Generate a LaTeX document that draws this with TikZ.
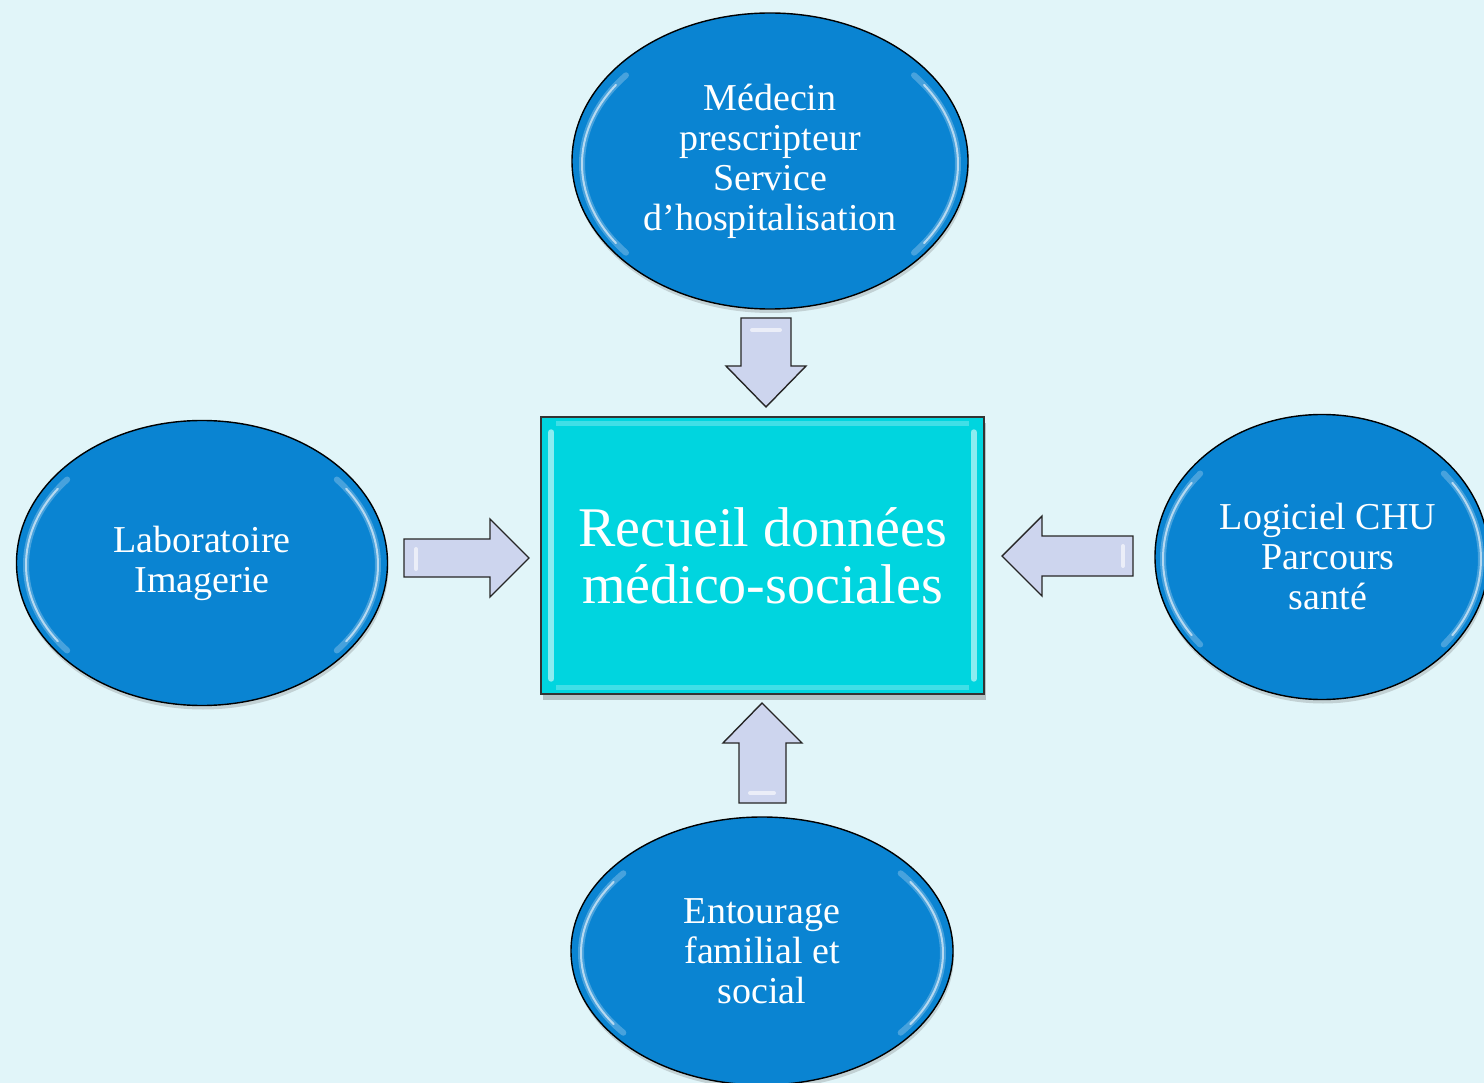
\documentclass[tikz,border=0pt]{standalone}
\usepackage{fontspec}
\setmainfont{Liberation Serif}
\usetikzlibrary{shapes.geometric,shadows}
\definecolor{bgc}{HTML}{E1F5F9}
\definecolor{ellc}{HTML}{0A84D2}
\definecolor{rectc}{HTML}{00D5DF}
\definecolor{arrc}{HTML}{CDD5EE}
\tikzset{
  ell/.style={ellipse, draw=black, line width=1.4pt, fill=ellc, text=white, align=center,
    font=\fontsize{38}{40}\selectfont, inner sep=0pt},
  ellshadow/.style={drop shadow={shadow xshift=1pt, shadow yshift=-4pt, opacity=.25, fill=black!60}},
  hl/.style={white, opacity=.25, line width=6pt, line cap=round},
  hlb/.style={white, opacity=.6, line width=2pt, line cap=round},
  centerbox/.style={rectangle, draw=black!80, line width=1.4pt, fill=rectc, text=white, align=center,
    font=\fontsize{56}{57}\selectfont, inner sep=0pt,
    drop shadow={shadow xshift=2pt, shadow yshift=-6pt, opacity=.3, fill=black!70}},
  blockarrow/.style={draw=black!85, line width=1.4pt, fill=arrc, line join=miter},
  arrhl/.style={white, opacity=.6, line width=4pt, line cap=round}
}
\begin{document}
\begin{tikzpicture}[x=1pt,y=-1pt]
\fill[bgc] (0,0) rectangle (1484,1083);
\useasboundingbox (0,0) rectangle (1484,1083);
\clip (0,0) rectangle (1484,1083);

% nodes
\node[ell, ellshadow, minimum width=396pt, minimum height=296pt] (top) at (770,161)
  {Médecin\\prescripteur\\Service\\d’hospitalisation};
\node[ell, ellshadow, minimum width=371pt, minimum height=285pt] (left) at (202,563)
  {Laboratoire\\Imagerie};
\node[ell, ellshadow, minimum width=334pt, minimum height=285pt] (right) at (1322,557)
  {\hspace*{12pt}Logiciel CHU\\\hspace*{12pt}Parcours\\\hspace*{12pt}santé};
\node[ell, ellshadow, minimum width=382pt, minimum height=268pt] (bottom) at (762,951)
  {Entourage\\familial et\\social};
\node[centerbox, minimum width=443pt, minimum height=277pt] (center) at (762.5,555.5)
  {Recueil données\\médico-sociales};

% glossy highlights on ellipses
\foreach \n/\rx/\ry/\dy in {top/188/138/-3, left/176/133/-2, right/159/133/-2, bottom/181/124/-2}{
  \draw[hl] ([yshift=\dy pt]\n.center) ++(140:\rx pt and \ry pt) arc[start angle=140, end angle=220, x radius=\rx pt, y radius=\ry pt];
  \draw[hlb] ([yshift=\dy pt]\n.center) ++(145:\rx pt and \ry pt) arc[start angle=145, end angle=215, x radius=\rx pt, y radius=\ry pt];
  \draw[hl] ([yshift=\dy pt]\n.center) ++(-40:\rx pt and \ry pt) arc[start angle=-40, end angle=40, x radius=\rx pt, y radius=\ry pt];
  \draw[hlb] ([yshift=\dy pt]\n.center) ++(-35:\rx pt and \ry pt) arc[start angle=-35, end angle=35, x radius=\rx pt, y radius=\ry pt];
}
% highlights on center box
\draw[white, opacity=.55, line width=6pt, line cap=round] ([xshift=11pt,yshift=-16pt]center.north west) -- ([xshift=11pt,yshift=16pt]center.south west);
\draw[white, opacity=.55, line width=6pt, line cap=round] ([xshift=-11pt,yshift=-16pt]center.north east) -- ([xshift=-11pt,yshift=16pt]center.south east);
\draw[white, opacity=.25, line width=5pt] ([xshift=16pt,yshift=-7pt]center.north west) -- ([xshift=-16pt,yshift=-7pt]center.north east);
\draw[white, opacity=.25, line width=5pt] ([xshift=16pt,yshift=7pt]center.south west) -- ([xshift=-16pt,yshift=7pt]center.south east);

% block arrows (connectors)
\coordinate (a1) at (766,318);   % top of down arrow
\coordinate (a2) at (404,559);   % tail of right arrow
\coordinate (a3) at (1133,556);  % tail of left arrow
\coordinate (a4) at (762,803);   % tail of up arrow

\draw[blockarrow] (a1) ++(-25,0) -- ++(50,0) -- ++(0,48) -- ++(15,0) -- ++(-40,41) -- ++(-40,-41) -- ++(15,0) -- cycle;
\draw[arrhl] (a1) ++(-14,12) -- ++(28,0);

\draw[blockarrow] (a2) ++(0,-20) -- ++(86,0) -- ++(0,-20) -- ++(39,39) -- ++(-39,39) -- ++(0,-20) -- ++(-86,0) -- cycle;
\draw[arrhl] (a2) ++(12,-10) -- ++(0,20);

\draw[blockarrow] (a3) ++(0,-20) -- ++(-91,0) -- ++(0,-20) -- ++(-40,40) -- ++(40,40) -- ++(0,-20) -- ++(91,0) -- cycle;
\draw[arrhl] (a3) ++(-10,-10) -- ++(0,20);

\draw[blockarrow] (a4) ++(-23,0) -- ++(0,-60) -- ++(-16,0) -- ++(39,-40) -- ++(40,40) -- ++(-16,0) -- ++(0,60) -- cycle;
\draw[arrhl] (a4) ++(-12,-10) -- ++(24,0);
\end{tikzpicture}
\end{document}
